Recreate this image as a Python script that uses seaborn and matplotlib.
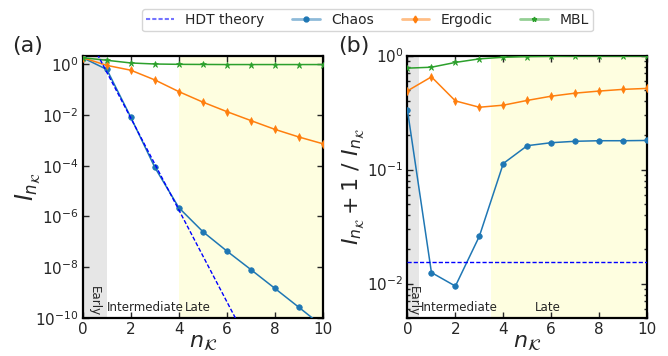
import numpy as np
import pandas as pd
import matplotlib
matplotlib.use("Agg")
import matplotlib.pyplot as plt
import matplotlib.transforms as mtransforms
from matplotlib.lines import Line2D
import seaborn as sns

# ---------------- data ----------------
n_k = [0, 1, 2, 3, 4, 5, 6, 7, 8, 9, 10]

chaos_I = [1.8, 0.62, 8.0e-3, 8.5e-5, 2.2e-6, 2.5e-7, 4.3e-8, 8.0e-9, 1.45e-9, 2.6e-10, 4.6e-11]
ergodic_I = [1.8, 0.9, 0.58, 0.24, 0.083, 0.032, 0.0135, 6.0e-3, 2.7e-3, 1.35e-3, 7.3e-4]
mbl_I = [1.8, 1.43, 1.12, 1.02, 0.99, 0.98, 0.97, 0.97, 0.97, 0.97, 0.97]
hdt_I = [31.0, 0.48, 7.45e-3, 1.15e-4, 1.79e-6, 2.77e-8, 4.3e-10, 6.7e-12, 1.03e-13, 1.6e-15, 2.5e-17]

chaos_R = [0.33, 0.0125, 0.0095, 0.026, 0.113, 0.162, 0.172, 0.177, 0.179, 0.179, 0.18]
ergodic_R = [0.49, 0.65, 0.40, 0.352, 0.367, 0.404, 0.44, 0.468, 0.488, 0.505, 0.515]
mbl_R = [0.775, 0.79, 0.87, 0.935, 0.966, 0.98, 0.985, 0.99, 0.99, 0.99, 0.99]
hdt_R = 0.0155

series_names = ["Chaos", "Ergodic", "MBL"]
colors = {"Chaos": "#1f77b4", "Ergodic": "#ff7f0e", "MBL": "#2ca02c"}
markers = {"Chaos": "o", "Ergodic": "d", "MBL": "*"}
msizes = {"Chaos": 4, "Ergodic": 4, "MBL": 4.5}

dfa = pd.DataFrame({"n": n_k * 3,
                    "val": chaos_I + ergodic_I + mbl_I,
                    "series": ["Chaos"] * 11 + ["Ergodic"] * 11 + ["MBL"] * 11})
dfb = pd.DataFrame({"n": n_k * 3,
                    "val": chaos_R + ergodic_R + mbl_R,
                    "series": ["Chaos"] * 11 + ["Ergodic"] * 11 + ["MBL"] * 11})

# ---------------- style ----------------
sns.set_style("ticks")
plt.rcParams["font.family"] = ["DejaVu Sans"]
plt.rcParams["mathtext.fontset"] = "dejavusans"

fig = plt.figure(figsize=(6.68, 3.56), dpi=100)
axa = fig.add_axes([0.124, 0.107, 0.3595, 0.737])
axb = fig.add_axes([0.610, 0.107, 0.3586, 0.737])


def draw(ax, df, hdt, early, late, inter_x, late_x, early_x):
    ax.axvspan(early[0], early[1], color="#e6e6e6", zorder=0, lw=0)
    ax.axvspan(late[0], late[1], color="#fefee0", zorder=0, lw=0)
    for s in series_names:
        sub = df[df["series"] == s]
        sns.lineplot(data=sub, x="n", y="val", ax=ax, color=colors[s],
                     marker=markers[s], markersize=msizes[s],
                     markeredgewidth=0.5, markeredgecolor=colors[s],
                     lw=1.1, legend=False, zorder=3)
    if np.ndim(hdt) == 0:
        ax.axhline(hdt, color="blue", ls="--", lw=1.0, dashes=(3, 1.5), zorder=4)
    else:
        sns.lineplot(x=n_k, y=hdt, ax=ax, color="blue", lw=1.0,
                     legend=False, zorder=4)
        ax.lines[-1].set_dashes((3, 1.5))
    ax.set_yscale("log")
    ax.set_xlim(0, 10)
    ax.set_xticks([0, 2, 4, 6, 8, 10])
    trans = mtransforms.blended_transform_factory(ax.transData, ax.transAxes)
    ax.text(inter_x, 0.015, "Intermediate", transform=trans, fontsize=8.6,
            ha="left", va="bottom")
    ax.text(late_x, 0.015, "Late", transform=trans, fontsize=8.6,
            ha="left", va="bottom")
    ax.text(early_x, 0.005, "Early", transform=trans, fontsize=8.6,
            rotation=270, ha="center", va="bottom")
    ax.set_xlabel(r"$n_\mathcal{K}$", fontsize=16, labelpad=-4)
    ax.tick_params(direction="in", which="both", top=True, right=True,
                   labelsize=11, width=1, pad=3)
    ax.tick_params(which="major", length=4)
    ax.tick_params(which="minor", length=2)
    for sp in ax.spines.values():
        sp.set_linewidth(1.6)
        sp.set_color("black")


draw(axa, dfa, hdt_I, (0, 1), (4, 10), 1.0, 4.25, 0.5)
axa.set_ylim(1e-10, 2.2)
axa.set_yticks([1e0, 1e-2, 1e-4, 1e-6, 1e-8, 1e-10])
axa.yaxis.set_minor_locator(matplotlib.ticker.NullLocator())
axa.set_ylabel(r"$I_{n_\mathcal{K}}$", fontsize=17)
axa.yaxis.set_label_coords(-0.17, 0.5)

draw(axb, dfb, hdt_R, (0, 0.5), (3.5, 10), 0.55, 5.3, 0.25)
axb.set_ylim(5e-3, 1.0)
axb.set_ylabel(r"$I_{n_\mathcal{K}}+1\ /\ I_{n_\mathcal{K}}$", fontsize=16)
axb.yaxis.set_label_coords(-0.175, 0.5)

fig.text(0.018, 0.87, "(a)", fontsize=16, ha="left", va="center")
fig.text(0.506, 0.87, "(b)", fontsize=16, ha="left", va="center")

handles = [Line2D([], [], color=(0, 0, 1, 0.55), ls="--", lw=1.5, dashes=(2, 1))]
labels = ["HDT theory"]
for s in series_names:
    r, g, b = matplotlib.colors.to_rgb(colors[s])
    handles.append(Line2D([], [], color=(r, g, b, 0.5), lw=2,
                          marker=markers[s], markersize=3.5,
                          markerfacecolor=colors[s], markeredgecolor=colors[s]))
    labels.append(s)
fig.legend(handles, labels, loc="center", bbox_to_anchor=(0.55, 0.943),
           ncol=4, fontsize=10, frameon=True, fancybox=True,
           edgecolor="#cccccc", handlelength=2.0, handletextpad=0.8,
           columnspacing=2.0, borderpad=0.3)

fig.savefig("out.png", dpi=100)
